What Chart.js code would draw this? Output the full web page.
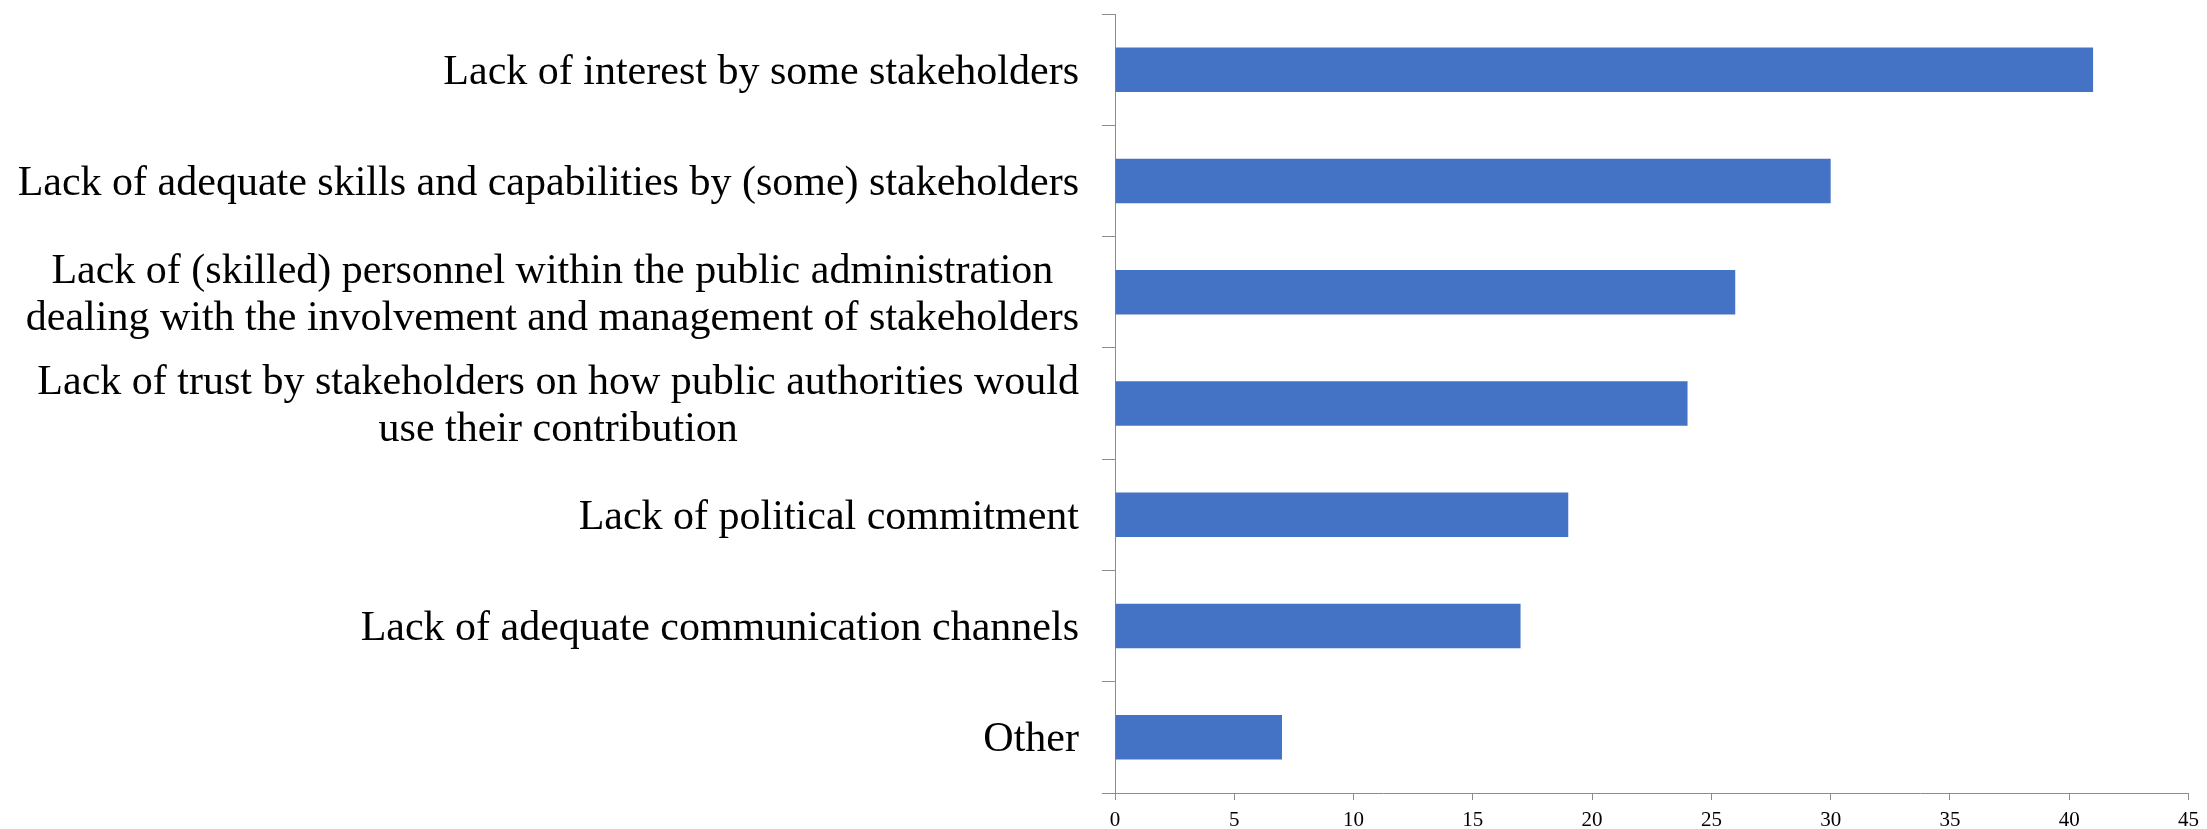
<!DOCTYPE html>
<html>
<head>
<meta charset="utf-8">
<title>Barriers to stakeholder involvement</title>
<script src="https://cdn.jsdelivr.net/npm/chart.js@4/dist/chart.umd.min.js"></script>
<style>
  html, body { margin: 0; padding: 0; background: #fff; }
  #grafico { display: block; }
</style>
</head>
<body>
<canvas id="grafico" width="2207" height="829"></canvas>
<script>
// categorias (las de dos lineas van como array)
var categories = [
    "Lack of interest by some stakeholders",
    "Lack of adequate skills and capabilities by (some) stakeholders",
    ["Lack of (skilled) personnel within the public administration", "dealing with the involvement and management of stakeholders"],
    ["Lack of trust by stakeholders on how public authorities would", "use their contribution"],
    "Lack of political commitment",
    "Lack of adequate communication channels",
    "Other"
];
var values = [41, 30, 26, 24, 19, 17, 7];
var xMin = 0;
var xMax = 45;
var xStep = 5;

var serif = '"Liberation Serif", "Times New Roman", serif';
var axisGray = '#8c8c8c';

// dibuja las etiquetas del eje y, con las lineas centradas entre si
var etiquetasCentradas = {
    id: 'etiquetasCentradas',
    afterDraw: function(chart) {
        var sc = chart.scales.y;
        var ctx = chart.ctx;
        var lineH = 47;
        var right = sc.right - 36;
        ctx.save();
        ctx.font = '42px ' + serif;
        ctx.fillStyle = '#000';
        ctx.textAlign = 'center';
        ctx.textBaseline = 'middle';
        categories.forEach(function(lab, i) {
            var lines = Array.isArray(lab) ? lab : [lab];
            var w = Math.max.apply(null, lines.map(function(l) { return ctx.measureText(l).width; }));
            var cx = right - w / 2;
            var y0 = sc.getPixelForTick(i) + 3 - (lines.length - 1) * lineH / 2;
            lines.forEach(function(l, k) {
                ctx.fillText(l, cx, y0 + k * lineH);
            });
        });
        ctx.restore();
    }
};

var ctx = document.getElementById('grafico').getContext('2d');
window.myChart = new Chart(ctx, {
    type: 'bar',
    data: {
        labels: categories,
        datasets: [{
            data: values,
            backgroundColor: '#4472C4',
            borderWidth: 0,
            barPercentage: 0.4,
            categoryPercentage: 1.0
        }]
    },
    options: {
        indexAxis: 'y',
        responsive: false,
        animation: false,
        layout: { padding: { top: 14, right: 14, bottom: 0, left: 0 } },
        plugins: {
            legend: { display: false },
            tooltip: { enabled: false }
        },
        scales: {
            x: {
                min: xMin,
                max: xMax,
                ticks: {
                    stepSize: xStep,
                    color: '#000',
                    padding: 8,
                    maxRotation: 0,
                    font: { family: serif, size: 21 }
                },
                grid: {
                    drawOnChartArea: false,
                    drawTicks: true,
                    tickLength: 7,
                    color: axisGray
                },
                border: { display: true, color: axisGray, width: 1 },
                afterFit: function(s) { s.height = 36; }
            },
            y: {
                ticks: { display: false },
                grid: {
                    offset: true,
                    drawOnChartArea: false,
                    drawTicks: true,
                    tickLength: 13,
                    color: axisGray
                },
                border: { display: true, color: axisGray, width: 1 },
                afterFit: function(s) { s.width = 1115; }
            }
        }
    },
    plugins: [etiquetasCentradas]
});
</script>
</body>
</html>
